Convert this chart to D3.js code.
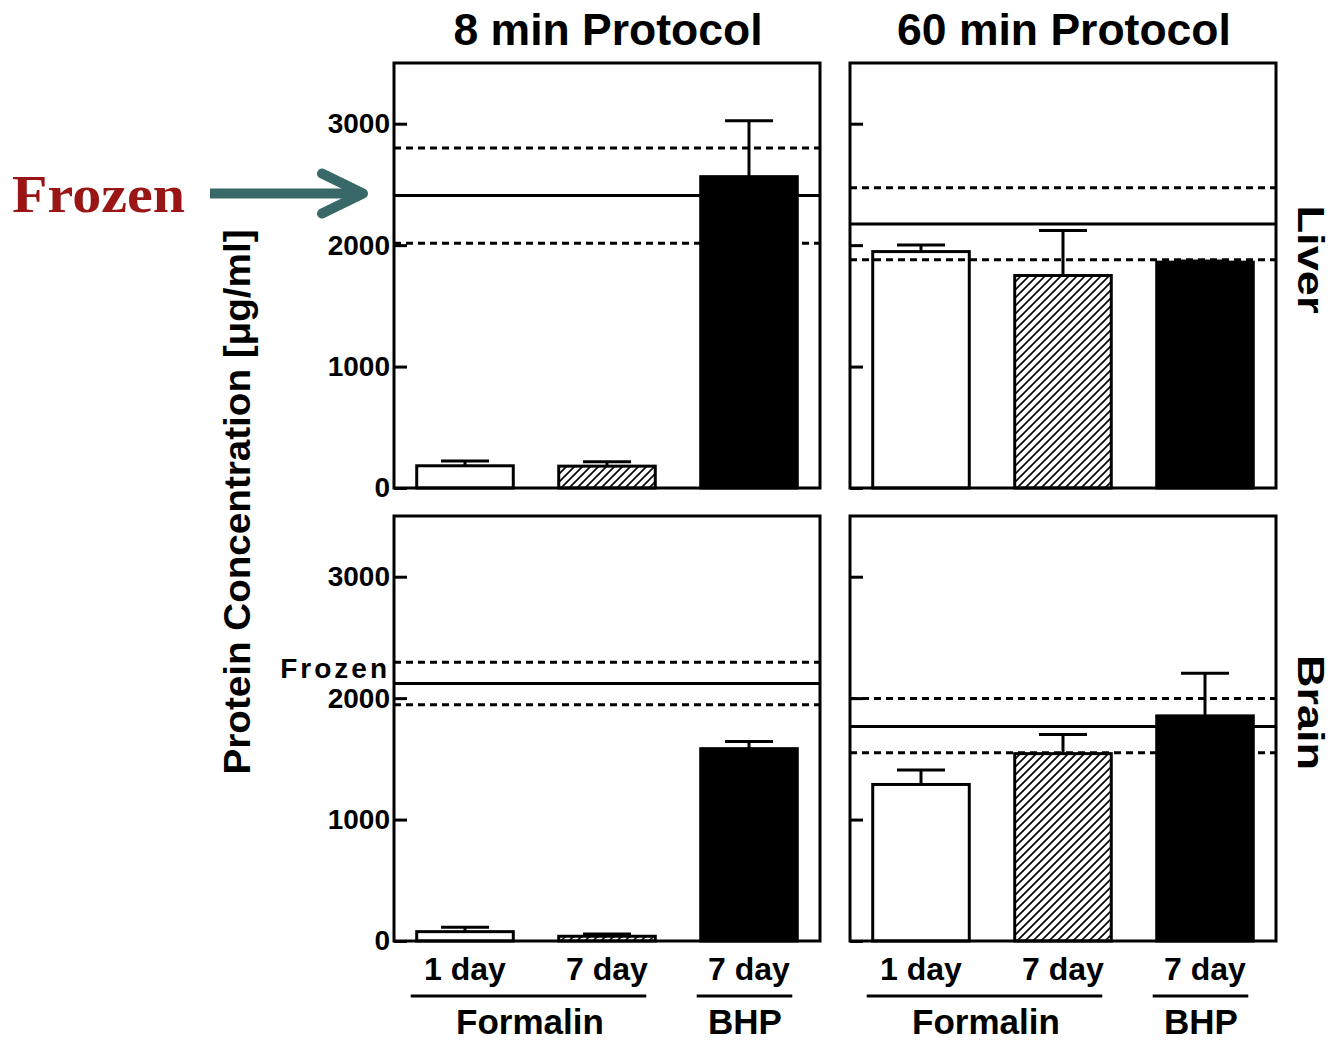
<!DOCTYPE html>
<html>
<head>
<meta charset="utf-8">
<script src="https://cdn.jsdelivr.net/npm/d3@7"></script>
<style>
  body { margin: 0; background: #fff; }
  svg text { font-family: "Liberation Sans", Arial, sans-serif; font-weight: bold; }
</style>
</head>
<body>
<div id="chart"></div>
<script>
// Data
const groups = ["Formalin 1 day", "Formalin 7 day", "BHP 7 day"];
const tickLabels = ["1 day", "7 day", "7 day"];
const yTicks = [0, 1000, 2000, 3000];

// mean protein concentration (ug/ml) and upper error per panel
const liver8Means = [183, 180, 2564];
const liver8Err = [39, 36, 460];
const liver60Means = [1947, 1750, 1860];
const liver60Err = [55, 370, 10];
const brain8Means = [77, 39, 1584];
const brain8Err = [36, 19, 58];
const brain60Means = [1289, 1543, 1854];
const brain60Err = [119, 157, 350];

// frozen reference: mean, lower, upper
const liver8Frozen = [2408, 2016, 2800];
const liver60Frozen = [2175, 1879, 2473];
const brain8Frozen = [2121, 1945, 2295];
const brain60Frozen = [1766, 1551, 1998];

const panels = [
  { means: liver8Means, err: liver8Err, frozen: liver8Frozen, col: 0, row: 0 },
  { means: liver60Means, err: liver60Err, frozen: liver60Frozen, col: 1, row: 0 },
  { means: brain8Means, err: brain8Err, frozen: brain8Frozen, col: 0, row: 1 },
  { means: brain60Means, err: brain60Err, frozen: brain60Frozen, col: 1, row: 1 }
];

// Layout
const width = 1334, height = 1042;
const panelW = 426, panelH = 425;
const colX = [394, 850];
const rowY = [63, 516];
const fills = ["#fff", "url(#hatch)", "#000"];

const svg = d3.select("#chart").append("svg")
  .attr("width", width)
  .attr("height", height);

svg.append("rect").attr("width", width).attr("height", height).attr("fill", "#fff");

// hatch pattern
const pat = svg.append("defs").append("pattern")
  .attr("id", "hatch")
  .attr("patternUnits", "userSpaceOnUse")
  .attr("width", 8)
  .attr("height", 8);
pat.append("rect").attr("width", 8).attr("height", 8).attr("fill", "#fff");
pat.append("path")
  .attr("d", "M0,8 L8,0 M-2,2 L2,-2 M6,10 L10,6")
  .attr("stroke", "#000")
  .attr("stroke-width", 1.6);

// Scales
const x = d3.scaleBand()
  .domain(groups)
  .range([0, panelW])
  .paddingInner(0.32)
  .paddingOuter(0.16);

const y = d3.scaleLinear()
  .domain([0, 3500])
  .range([panelH, 0]);

panels.forEach(p => {
  const g = svg.append("g")
    .attr("transform", `translate(${colX[p.col]},${rowY[p.row]})`);

  const data = groups.map((k, i) => ({ key: k, mean: p.means[i], err: p.err[i], i }));

  // bars
  g.selectAll(".bar")
    .data(data)
    .enter()
    .append("rect")
    .attr("class", "bar")
    .attr("x", d => x(d.key))
    .attr("y", d => y(d.mean))
    .attr("width", x.bandwidth())
    .attr("height", d => panelH - y(d.mean))
    .attr("fill", d => fills[d.i])
    .attr("stroke", "#000")
    .attr("stroke-width", 3);

  // error bars (upper only)
  const eb = g.selectAll(".err")
    .data(data)
    .enter()
    .append("g")
    .attr("class", "err");
  eb.append("line")
    .attr("x1", d => x(d.key) + x.bandwidth() / 2)
    .attr("x2", d => x(d.key) + x.bandwidth() / 2)
    .attr("y1", d => y(d.mean))
    .attr("y2", d => y(d.mean + d.err))
    .attr("stroke", "#000")
    .attr("stroke-width", 3);
  eb.append("line")
    .attr("x1", d => x(d.key) + x.bandwidth() / 2 - 24)
    .attr("x2", d => x(d.key) + x.bandwidth() / 2 + 24)
    .attr("y1", d => y(d.mean + d.err))
    .attr("y2", d => y(d.mean + d.err))
    .attr("stroke", "#000")
    .attr("stroke-width", 3);

  // frozen reference lines
  g.selectAll(".ref")
    .data(p.frozen)
    .enter()
    .append("line")
    .attr("class", "ref")
    .attr("x1", 0)
    .attr("x2", panelW)
    .attr("y1", d => y(d))
    .attr("y2", d => y(d))
    .attr("stroke", "#000")
    .attr("stroke-width", 3)
    .attr("stroke-dasharray", (d, i) => i === 0 ? null : "7,5");

  // axis with inward ticks
  const axis = d3.axisLeft(y)
    .tickValues(yTicks)
    .tickSize(-13)
    .tickPadding(4)
    .tickFormat(p.col === 0 ? d3.format("d") : () => "");
  const ax = g.append("g").call(axis);
  ax.select(".domain").remove();
  ax.selectAll(".tick line").attr("stroke", "#000").attr("stroke-width", 3);
  ax.selectAll(".tick text")
    .style("font-size", "28px")
    .style("fill", "#000");

  // frame
  g.append("rect")
    .attr("width", panelW)
    .attr("height", panelH)
    .attr("fill", "none")
    .attr("stroke", "#000")
    .attr("stroke-width", 3);

  // category labels under bottom row
  if (p.row === 1) {
    g.selectAll(".cat")
      .data(groups)
      .enter()
      .append("text")
      .attr("x", d => x(d) + x.bandwidth() / 2)
      .attr("y", panelH + 39)
      .attr("text-anchor", "middle")
      .style("font-size", "32px")
      .text((d, i) => tickLabels[i]);

    // group underlines
    g.append("line")
      .attr("x1", x(groups[0]) - 6)
      .attr("x2", x(groups[1]) + x.bandwidth() - 9)
      .attr("y1", panelH + 55).attr("y2", panelH + 55)
      .attr("stroke", "#000").attr("stroke-width", 3);
    g.append("line")
      .attr("x1", x(groups[2]) - 4)
      .attr("x2", x(groups[2]) + x.bandwidth() - 5)
      .attr("y1", panelH + 55).attr("y2", panelH + 55)
      .attr("stroke", "#000").attr("stroke-width", 3);

    g.append("text")
      .attr("x", (x(groups[0]) + x(groups[1]) + x.bandwidth()) / 2 - 6)
      .attr("y", panelH + 93)
      .attr("text-anchor", "middle")
      .style("font-size", "35px")
      .text("Formalin");
    g.append("text")
      .attr("x", x(groups[2]) + x.bandwidth() / 2 - 4)
      .attr("y", panelH + 93)
      .attr("text-anchor", "middle")
      .style("font-size", "35px")
      .text("BHP");
  }

  // "Frozen" label beside brain 8 min panel
  if (p.col === 0 && p.row === 1) {
    g.append("text")
      .attr("x", -4)
      .attr("y", y(p.frozen[0]) - 5)
      .attr("text-anchor", "end")
      .style("font-size", "28px")
      .style("letter-spacing", "3px")
      .text("Frozen");
  }
});

// Column titles
const titles = ["8 min Protocol", "60 min Protocol"];
svg.selectAll(".title")
  .data(titles)
  .enter()
  .append("text")
  .attr("x", (d, i) => colX[i] + panelW / 2 + 1)
  .attr("y", 45)
  .attr("text-anchor", "middle")
  .style("font-size", "44.5px")
  .text(d => d);

// Row labels (rotated)
const rowLabels = ["Liver", "Brain"];
const rowLabelLen = [108, 115];
svg.selectAll(".rowlab")
  .data(rowLabels)
  .enter()
  .append("text")
  .attr("transform", (d, i) => `translate(1298,${rowY[i] + panelH / 2 - 16}) rotate(90)`)
  .attr("text-anchor", "middle")
  .attr("textLength", (d, i) => rowLabelLen[i])
  .attr("lengthAdjust", "spacingAndGlyphs")
  .style("font-size", "36px")
  .text(d => d);

// Y axis label
svg.append("text")
  .attr("transform", "translate(250,502) rotate(-90)")
  .attr("text-anchor", "middle")
  .attr("textLength", 545)
  .attr("lengthAdjust", "spacingAndGlyphs")
  .style("font-size", "37px")
  .text("Protein Concentration [\u03bcg/ml]");

// Frozen arrow annotation (top-left)
const arrowY = rowY[0] + y(liver8Frozen[0]) - 2;
svg.append("text")
  .attr("x", 12)
  .attr("y", arrowY + 18)
  .attr("textLength", 173)
  .attr("lengthAdjust", "spacingAndGlyphs")
  .style("font-family", "'Liberation Serif', 'DejaVu Serif', serif")
  .style("font-size", "53px")
  .style("font-weight", "bold")
  .style("fill", "#9a1616")
  .text("Frozen");

svg.append("line")
  .attr("x1", 210).attr("x2", 360)
  .attr("y1", arrowY).attr("y2", arrowY)
  .attr("stroke", "#386868")
  .attr("stroke-width", 10);
svg.append("polyline")
  .attr("points", `322,${arrowY - 20} 363,${arrowY} 322,${arrowY + 20}`)
  .attr("fill", "none")
  .attr("stroke", "#386868")
  .attr("stroke-width", 10)
  .attr("stroke-linecap", "round")
  .attr("stroke-linejoin", "round");
</script>
</body>
</html>
